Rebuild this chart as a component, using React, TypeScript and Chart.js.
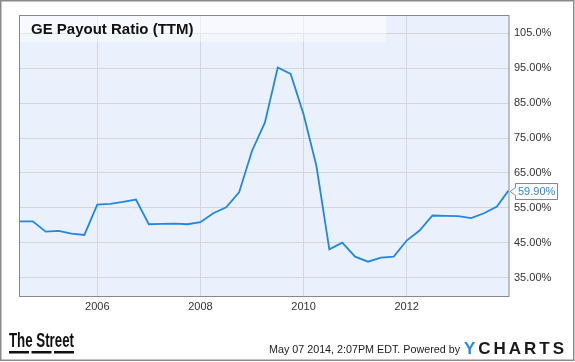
import React, { useEffect, useRef } from 'react';
import { Chart, registerables } from 'chart.js';

Chart.register(...registerables);

const years = [
  2004.5, 2004.75, 2005.0, 2005.25, 2005.5, 2005.75,
  2006.0, 2006.25, 2006.5, 2006.75, 2007.0, 2007.25, 2007.5, 2007.75,
  2008.0, 2008.25, 2008.5, 2008.75, 2009.0, 2009.25, 2009.5, 2009.75,
  2010.0, 2010.25, 2010.5, 2010.75, 2011.0, 2011.25, 2011.5, 2011.75,
  2012.0, 2012.25, 2012.5, 2012.75, 2013.0, 2013.25, 2013.5, 2013.75, 2013.97,
];

const payoutRatio = [
  51.2, 51.2, 48.25, 48.45, 47.7, 47.3,
  55.95, 56.15, 56.75, 57.4, 50.35, 50.45, 50.55, 50.35,
  50.95, 53.5, 55.2, 59.45, 71.3, 79.4, 95.15, 93.3,
  81.8, 67.0, 43.2, 45.1, 41.1, 39.65, 40.8, 41.1,
  45.7, 48.55, 52.85, 52.75, 52.65, 52.1, 53.5, 55.4, 59.9,
];

const xTicks = [2006, 2008, 2010, 2012];
const yTicks = [35, 45, 55, 65, 75, 85, 95, 105];
const lastLabel = '59.90%';
const title = 'GE Payout Ratio (TTM)';
const footerText = 'May 07 2014, 2:07PM EDT. Powered by';

const FONT = '"Liberation Sans", Arial, sans-serif';

const decorPlugin = {
  id: 'decor',
  beforeDraw(chart: any) {
    const { ctx, chartArea: ca, width, height } = chart;
    ctx.save();
    ctx.fillStyle = '#ffffff';
    ctx.fillRect(0, 0, width, height);
    ctx.fillStyle = '#eaf1fc';
    ctx.fillRect(ca.left, ca.top, ca.right - ca.left, ca.bottom - ca.top);
    ctx.restore();
  },
  beforeDatasetsDraw(chart: any) {
    const { ctx, chartArea: ca } = chart;
    ctx.save();
    ctx.fillStyle = 'rgba(255,255,255,0.6)';
    ctx.fillRect(ca.left, ca.top, 386 - ca.left, 33 - ca.top);
    ctx.fillStyle = 'rgba(255,255,255,0.4)';
    ctx.fillRect(ca.left, 33, 386 - ca.left, 42 - 33);
    ctx.fillStyle = '#111111';
    ctx.font = 'bold 15px ' + FONT;
    ctx.textBaseline = 'alphabetic';
    ctx.textAlign = 'left';
    ctx.fillText(title, 31, 34);
    ctx.restore();
  },
  afterDraw(chart: any) {
    const { ctx, chartArea: ca } = chart;
    ctx.save();
    // plot border
    ctx.strokeStyle = '#888888';
    ctx.lineWidth = 1;
    ctx.strokeRect(ca.left + 0.5, ca.top + 0.5, ca.right - ca.left - 0.5, ca.bottom - ca.top);

    // last value label
    const ys = chart.scales.y;
    const xs = chart.scales.x;
    const lx = xs.getPixelForValue(years[years.length - 1]);
    const ly = ys.getPixelForValue(payoutRatio[payoutRatio.length - 1]);
    const bx = 515.5;
    const bw = 42;
    const bh = 16;
    const by = Math.round(ly - bh / 2) + 0.5;
    ctx.beginPath();
    ctx.moveTo(bx, by);
    ctx.lineTo(bx + bw, by);
    ctx.lineTo(bx + bw, by + bh);
    ctx.lineTo(bx, by + bh);
    ctx.lineTo(bx, by + bh / 2 + 4);
    ctx.lineTo(lx + 2, by + bh / 2);
    ctx.lineTo(bx, by + bh / 2 - 4);
    ctx.closePath();
    ctx.fillStyle = '#ffffff';
    ctx.fill();
    ctx.strokeStyle = '#888888';
    ctx.stroke();
    ctx.fillStyle = '#2a8ae2';
    ctx.font = '11px ' + FONT;
    ctx.textBaseline = 'middle';
    ctx.textAlign = 'left';
    ctx.fillText(lastLabel, bx + 2.5, by + bh / 2 + 0.5);

    // outer border
    ctx.strokeStyle = '#8a8a8a';
    ctx.lineWidth = 1.5;
    ctx.strokeRect(0.75, 0.75, 573, 359.5);

    // The Street logo
    ctx.save();
    ctx.fillStyle = '#111111';
    ctx.font = 'bold 20px ' + FONT;
    ctx.textBaseline = 'alphabetic';
    ctx.textAlign = 'left';
    const tw = ctx.measureText('The Street').width;
    ctx.translate(9, 346.5);
    ctx.scale(65 / tw, 1);
    ctx.fillText('The Street', 0, 0);
    ctx.restore();
    ctx.fillStyle = '#111111';
    ctx.fillRect(9, 351, 20, 2.5);
    ctx.fillRect(31.5, 351, 20, 2.5);
    ctx.fillRect(54, 351, 20, 2.5);

    // footer text
    ctx.fillStyle = '#222222';
    ctx.font = '11px ' + FONT;
    ctx.textBaseline = 'middle';
    ctx.textAlign = 'left';
    ctx.fillText(footerText, 269, 349.5, 191);

    // YCHARTS logo
    const letters = ['Y', 'C', 'H', 'A', 'R', 'T', 'S'];
    ctx.font = 'bold 17px ' + FONT;
    ctx.textBaseline = 'alphabetic';
    const widths = letters.map((l) => ctx.measureText(l).width);
    const total = widths.reduce((a, b) => a + b, 0);
    const gap = (100 - total) / (letters.length - 1);
    let cx = 464;
    letters.forEach((l, i) => {
      ctx.fillStyle = i === 0 ? '#2a8ae2' : '#1a1a1a';
      ctx.fillText(l, cx, 353.5);
      cx += widths[i] + gap;
    });
    ctx.restore();
  },
};

export default function App() {
  const ref = useRef<HTMLCanvasElement | null>(null);
  useEffect(() => {
    if (!ref.current) return;
    const chart = new Chart(ref.current, {
      type: 'line',
      data: {
        datasets: [
          {
            data: years.map((x, i) => ({ x, y: payoutRatio[i] })),
            borderColor: '#2088e3',
            borderWidth: 1.8,
            pointRadius: 0,
            tension: 0,
            fill: false,
          },
        ],
      },
      options: {
        animation: false,
        responsive: false,
        devicePixelRatio: 1,
        layout: { padding: { left: 19, top: 15, right: 0, bottom: 0 } },
        plugins: { legend: { display: false }, tooltip: { enabled: false }, title: { display: false } },
        scales: {
          x: {
            type: 'linear',
            min: 2004.482,
            max: 2013.984,
            afterBuildTicks: (s: any) => {
              s.ticks = xTicks.map((v) => ({ value: v }));
            },
            afterFit: (s: any) => {
              s.height = 66;
            },
            ticks: {
              callback: (v: any) => String(v),
              font: { size: 11, family: FONT },
              color: '#333333',
              padding: 4,
              maxRotation: 0,
              autoSkip: false,
            },
            grid: { color: '#d6d6d6', drawTicks: false, lineWidth: 1 },
            border: { display: false },
          },
          y: {
            type: 'linear',
            position: 'right',
            min: 29.85,
            max: 110.15,
            afterBuildTicks: (s: any) => {
              s.ticks = yTicks.map((v) => ({ value: v }));
            },
            afterFit: (s: any) => {
              s.width = 66;
            },
            ticks: {
              callback: (v: any) => (v >= 100 ? v.toFixed(1) : v.toFixed(2)) + '%',
              font: { size: 11, family: FONT },
              color: '#333333',
              padding: 5,
              autoSkip: false,
            },
            grid: { color: '#d6d6d6', drawTicks: false, lineWidth: 1 },
            border: { display: false },
          },
        },
      },
      plugins: [decorPlugin],
    });
    return () => chart.destroy();
  }, []);
  return (
    <div style={{ position: 'absolute', left: 0, top: 0, width: 575, height: 362 }}>
      <canvas ref={ref} width={575} height={362} style={{ display: 'block' }} />
    </div>
  );
}
